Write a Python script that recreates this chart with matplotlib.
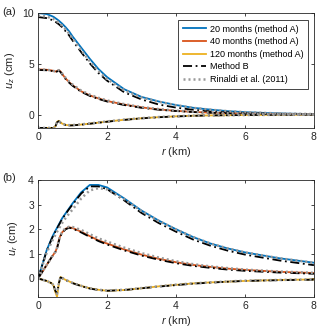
import numpy as np
import matplotlib.pyplot as plt

plt.rcParams['font.family'] = ['Liberation Sans', 'DejaVu Sans']
plt.rcParams['mathtext.fontset'] = 'custom'
plt.rcParams['mathtext.rm'] = 'Liberation Sans'
plt.rcParams['mathtext.it'] = 'Liberation Sans:italic'

# radial distance grid (km)
r = [0, 0.25, 0.4, 0.45, 0.5, 0.55, 0.6, 0.65, 0.7, 0.8, 0.9, 1.0, 1.25,
     1.5, 1.75, 2.0, 2.5, 3.0, 3.5, 4.0, 4.5, 5.0, 5.5, 6.0, 7.0, 8.0]

# (a) vertical displacement u_z (cm)
uz_20A = [10, 9.9, 9.7, 9.62, 9.5, 9.38, 9.25, 9.1, 8.95, 8.6, 8.2, 7.7, 6.6,
          5.5, 4.5, 3.7, 2.5, 1.75, 1.3, 0.95, 0.68, 0.5, 0.35, 0.25, 0.12, 0.06]
uz_20B = [9.6, 9.5, 9.32, 9.25, 9.15, 9.02, 8.9, 8.75, 8.6, 8.2, 7.8, 7.3, 6.15,
          5.05, 4.1, 3.35, 2.2, 1.5, 1.0, 0.7, 0.48, 0.33, 0.24, 0.17, 0.09, 0.05]
uz_20R = [9.75, 9.65, 9.47, 9.4, 9.3, 9.18, 9.05, 8.9, 8.75, 8.38, 7.98, 7.5, 6.35,
          5.25, 4.3, 3.5, 2.4, 1.7, 1.27, 0.93, 0.67, 0.49, 0.35, 0.25, 0.12, 0.06]
uz_40A = [4.45, 4.42, 4.35, 4.3, 4.25, 4.3, 4.38, 4.25, 4.0, 3.55, 3.2, 2.9, 2.3,
          1.9, 1.6, 1.35, 1.0, 0.72, 0.52, 0.38, 0.28, 0.2, 0.15, 0.11, 0.06, 0.03]
uz_40B = [4.4, 4.37, 4.3, 4.25, 4.2, 4.25, 4.33, 4.2, 3.95, 3.5, 3.15, 2.85, 2.25,
          1.85, 1.55, 1.3, 0.95, 0.68, 0.49, 0.36, 0.26, 0.19, 0.14, 0.1, 0.05, 0.03]
uz_40R = [4.45, 4.42, 4.35, 4.3, 4.25, 4.3, 4.38, 4.27, 4.05, 3.62, 3.27, 2.97, 2.37,
          1.97, 1.66, 1.4, 1.04, 0.75, 0.55, 0.4, 0.29, 0.21, 0.15, 0.11, 0.06, 0.03]
uz_120A = [-1.3, -1.3, -1.3, -1.3, -1.15, -0.7, -0.6, -0.75, -0.88, -1.0, -1.05, -1.04, -0.97,
           -0.88, -0.78, -0.68, -0.5, -0.35, -0.24, -0.16, -0.1, -0.07, -0.05, -0.03, -0.01, 0.0]
uz_120B = [-1.3, -1.3, -1.3, -1.3, -1.17, -0.75, -0.64, -0.78, -0.9, -1.02, -1.06, -1.05, -0.98,
           -0.89, -0.79, -0.69, -0.51, -0.36, -0.25, -0.17, -0.11, -0.07, -0.05, -0.03, -0.01, 0.0]
uz_120R = [-1.3, -1.3, -1.3, -1.3, -1.15, -0.72, -0.62, -0.76, -0.88, -0.99, -1.03, -1.02, -0.95,
           -0.86, -0.76, -0.66, -0.48, -0.34, -0.23, -0.15, -0.1, -0.07, -0.05, -0.03, -0.01, 0.0]

# (b) radial displacement u_r (cm)
ur_20A = [0, 1.15, 1.65, 1.8, 1.93, 2.06, 2.19, 2.32, 2.45, 2.65, 2.85, 3.05, 3.5,
          3.8, 3.8, 3.7, 3.25, 2.76, 2.35, 2.0, 1.68, 1.42, 1.22, 1.06, 0.82, 0.64]
ur_20B = [0, 1.12, 1.62, 1.77, 1.9, 2.03, 2.16, 2.29, 2.42, 2.62, 2.82, 3.0, 3.45,
          3.74, 3.74, 3.63, 3.17, 2.66, 2.25, 1.9, 1.58, 1.33, 1.13, 0.97, 0.73, 0.54]
ur_20R = [0, 1.05, 1.5, 1.64, 1.77, 1.9, 2.02, 2.14, 2.26, 2.46, 2.64, 2.8, 3.25,
          3.58, 3.67, 3.62, 3.22, 2.74, 2.34, 1.99, 1.68, 1.42, 1.22, 1.06, 0.82, 0.64]
ur_40A = [0, 0.55, 0.88, 0.98, 1.08, 1.25, 1.55, 1.75, 1.88, 2.02, 2.08, 2.05, 1.9,
          1.72, 1.55, 1.42, 1.18, 0.97, 0.8, 0.66, 0.55, 0.47, 0.4, 0.35, 0.27, 0.22]
ur_40B = [0, 0.55, 0.88, 0.98, 1.07, 1.22, 1.5, 1.72, 1.86, 2.0, 2.06, 2.03, 1.87,
          1.69, 1.52, 1.38, 1.14, 0.93, 0.76, 0.62, 0.51, 0.43, 0.36, 0.31, 0.24, 0.19]
ur_40R = [0, 0.55, 0.88, 0.98, 1.08, 1.25, 1.55, 1.76, 1.9, 2.05, 2.1, 2.09, 1.97,
          1.8, 1.63, 1.5, 1.25, 1.03, 0.85, 0.7, 0.58, 0.49, 0.42, 0.36, 0.28, 0.23]
ur_120A = [0, -0.1, -0.2, -0.3, -0.55, -0.75, -0.25, 0.06, 0.02, -0.06, -0.12, -0.18, -0.3,
           -0.4, -0.46, -0.5, -0.47, -0.4, -0.32, -0.26, -0.2, -0.16, -0.13, -0.1, -0.06, -0.04]
ur_120B = [0, -0.1, -0.2, -0.28, -0.5, -0.6, -0.2, 0.04, 0.01, -0.07, -0.13, -0.19, -0.31,
           -0.41, -0.47, -0.5, -0.47, -0.4, -0.33, -0.27, -0.21, -0.17, -0.13, -0.1, -0.07, -0.05]
ur_120R = [0, -0.1, -0.2, -0.28, -0.5, -0.62, -0.22, 0.05, 0.02, -0.06, -0.12, -0.18, -0.3,
           -0.4, -0.46, -0.49, -0.46, -0.39, -0.32, -0.25, -0.2, -0.16, -0.12, -0.09, -0.06, -0.04]

labels = ['20 months (method A)', '40 months (method A)', '120 months (method A)',
          'Method B', 'Rinaldi et al. (2011)']
colors = ['#0072BD', '#D95319', '#EDB120']
frame = '#262626'

fig = plt.figure(figsize=(3.2, 3.34), dpi=100)
ax1 = fig.add_axes([0.119, 0.617, 0.862, 0.344])
ax2 = fig.add_axes([0.119, 0.111, 0.862, 0.350])


def panel(ax, A, B, R):
    h = []
    for y, c in zip(A, colors):
        h += ax.plot(r, y, color=c, lw=1.3)
    for y in B:
        hb, = ax.plot(r, y, color='k', lw=1.3, ls=(0, (5, 2, 1, 2)))
    for y in R:
        hr, = ax.plot(r, y, color='#999999', lw=1.8, ls=(0, (0.8, 1.2)))
    ax.set_xlim(0, 8)
    ax.set_xticks([0, 2, 4, 6, 8])
    ax.tick_params(direction='in', length=2.5, width=0.6, top=True, right=True,
                   labelsize=7.5, colors=frame, pad=3)
    for s in ax.spines.values():
        s.set_color(frame)
        s.set_linewidth(0.6)
    ax.set_xlabel('$r$ (km)', fontsize=8, color=frame, labelpad=2)
    return h + [hb, hr]


hs = panel(ax1, [uz_20A, uz_40A, uz_120A], [uz_20B, uz_40B, uz_120B],
           [uz_20R, uz_40R, uz_120R])
ax1.set_ylim(-1.3, 10)
ax1.set_yticks([0, 5, 10])
ax1.set_ylabel('$u_z$ (cm)', fontsize=8, color=frame, labelpad=4)

panel(ax2, [ur_20A, ur_40A, ur_120A], [ur_20B, ur_40B, ur_120B],
      [ur_20R, ur_40R, ur_120R])
ax2.set_ylim(-0.75, 4)
ax2.set_yticks([0, 1, 2, 3, 4])
ax2.set_ylabel('$u_r$ (cm)', fontsize=8, color=frame, labelpad=6)

leg = ax1.legend(hs, labels, loc='upper right', bbox_to_anchor=(0.978, 0.939),
                 borderaxespad=0, fontsize=6.5, fancybox=False, framealpha=1,
                 edgecolor=frame, handlelength=2.6, labelspacing=0.4,
                 handletextpad=0.4, borderpad=0.5)
leg.get_frame().set_linewidth(0.6)

fig.text(0.006, 0.963, '(a)', fontsize=8, color=frame, va='center')
fig.text(0.006, 0.467, '(b)', fontsize=8, color=frame, va='center')

fig.savefig('out.png', dpi=100)
